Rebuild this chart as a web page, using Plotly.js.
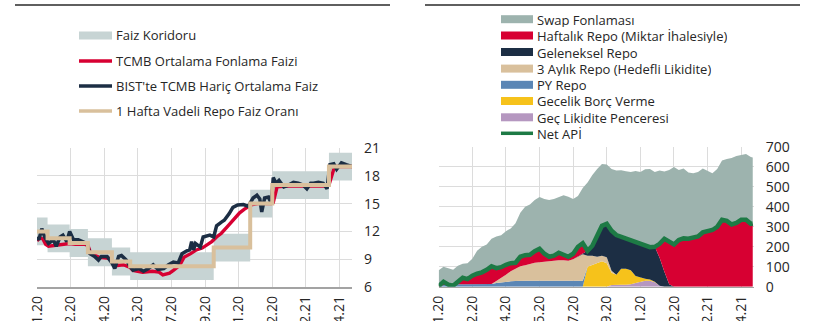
<!DOCTYPE html>
<html>
<head>
<meta charset="utf-8">
<script src="https://cdn.plot.ly/plotly-3.0.1.min.js"></script>
<style>
html,body{margin:0;padding:0;background:#ffffff;}
#chart{width:825px;height:321px;}
</style>
</head>
<body>
<div id="chart"></div>
<script>
// ---------- shared x axis (business-day index) ----------
const tickDays = [0, 35, 70, 105, 140, 175, 210, 245, 280, 315];
const tickLabels = ["02.01.20", "20.02.20", "09.04.20", "28.05.20", "16.07.20", "03.09.20", "02.11.20", "21.12.20", "10.02.21", "01.04.21"];

// ---------- left panel: rates (%) ----------
const policyDays   = [0, 11, 34, 53, 78, 97, 184, 222, 245, 304, 328];
const corridorLow  = [10.5, 9.75, 9.25, 8.25, 7.25, 6.75, 8.75, 13.5, 15.5, 17.5, 17.5];
const corridorHigh = [13.5, 12.75, 12.25, 11.25, 10.25, 9.75, 11.75, 16.5, 18.5, 20.5, 20.5];
const repoRate     = [12, 11.25, 10.75, 9.75, 8.75, 8.25, 10.25, 15, 17, 19, 19];

const tcmbDays = [0, 3, 6, 9, 12, 20, 30, 34, 40, 50, 53, 56, 65, 75, 79, 82, 90, 97, 100, 110, 120, 127, 131, 138, 142, 147, 150, 153, 160, 166, 172, 177, 182, 187, 192, 198, 204, 211, 216, 220, 224, 230, 244, 246, 250, 260, 280, 302, 304, 306, 309, 312, 328];
const tcmbRate = [11.0, 11.3, 11.2, 10.6, 10.4, 10.5, 10.6, 10.7, 10.6, 10.6, 10.5, 9.6, 9.2, 9.1, 8.6, 8.3, 8.4, 8.1, 7.8, 7.6, 7.7, 7.6, 7.3, 7.5, 7.8, 8.2, 8.6, 9.2, 9.6, 10.0, 10.2, 10.5, 10.9, 11.4, 11.8, 12.5, 13.2, 14.0, 14.4, 14.7, 14.9, 15.0, 15.0, 15.1, 16.8, 16.9, 16.9, 16.9, 17.0, 17.7, 18.7, 19.0, 19.0];

const bistDays = [0, 2, 5, 8, 12, 17, 20, 24, 27, 31, 34, 38, 43, 48, 52, 55, 60, 64, 67, 73, 78, 81, 85, 88, 93, 97, 100, 106, 111, 116, 121, 126, 132, 137, 142, 147, 151, 156, 159, 161, 163, 165, 170, 173, 180, 184, 187, 192, 195, 200, 204, 209, 215, 220, 225, 229, 232, 234, 237, 241, 244, 246, 249, 252, 257, 262, 267, 272, 277, 281, 285, 288, 293, 298, 302, 305, 309, 312, 317, 322, 328];
const bistRate = [11.4, 11.1, 12.3, 11.4, 10.7, 11.1, 10.4, 11.4, 11.6, 10.9, 12.0, 11.1, 11.1, 10.9, 10.7, 9.6, 9.3, 8.9, 9.3, 9.3, 8.6, 8.0, 9.3, 9.4, 8.9, 8.2, 7.8, 8.0, 7.7, 8.0, 8.4, 7.9, 8.0, 8.4, 8.7, 8.6, 9.6, 9.9, 10.0, 10.9, 10.0, 10.7, 10.3, 11.4, 11.6, 11.4, 12.6, 13.0, 13.2, 13.9, 14.6, 14.85, 14.9, 14.7, 15.6, 15.9, 15.5, 14.1, 15.6, 15.7, 15.0, 17.8, 17.2, 17.5, 16.8, 17.0, 17.3, 17.2, 17.0, 16.6, 17.2, 17.2, 17.3, 17.2, 16.6, 19.2, 19.3, 18.7, 19.4, 19.2, 19.0];

// ---------- right panel: funding (billion TL) ----------
const fundDays = [0,5,10,15,20,25,30,35,40,45,50,55,60,65,70,75,80,85,90,95,100,105,110,115,120,125,130,135,140,145,150,155,160,165,170,175,180,185,190,195,200,205,210,215,220,225,230,235,240,245,250,255,260,265,270,275,280,285,290,295,300,305,310,315,320,325,327];
const gecLikidite = [0,0,0,0,0,0,0,0,0,0,0,0,0,0,0,0,0,0,0,0,0,0,0,0,0,0,0,0,0,0,0,0,0,0,0,0,8,10,10,10,12,18,25,30,30,22,5,0,0,0,0,0,0,0,0,0,0,0,0,0,0,0,0,0,0,0,0];
const gecelikBorc = [0,0,0,0,0,0,0,0,0,0,0,0,0,0,0,0,0,0,0,0,0,0,0,0,0,0,0,0,0,0,0,100,110,118,128,118,62,50,80,80,70,35,20,10,6,3,0,0,0,0,0,0,0,0,0,0,0,0,0,0,0,0,0,0,0,0,0];
const pyRepo = [0,8,10,12,12,12,12,12,12,12,12,14,18,22,25,27,28,30,30,30,30,30,30,30,30,30,30,30,30,30,30,0,0,0,0,0,0,0,0,0,0,0,0,0,0,0,0,0,0,0,0,0,0,0,0,0,0,0,0,0,0,0,0,0,0,0,0];
const ucAylikRepo = [0,0,0,0,0,0,0,0,0,0,0,0,10,20,35,50,62,72,78,85,90,92,95,98,100,103,102,100,108,122,133,55,45,32,27,30,10,0,0,0,0,0,0,0,0,0,0,0,0,0,0,0,0,0,0,0,0,0,0,0,0,0,0,0,0,0,0];
const gelenekselRepo = [0,0,0,0,0,0,0,0,0,0,0,0,0,0,0,0,0,0,0,0,0,0,0,0,0,0,0,0,0,0,0,25,50,100,150,167,200,199,160,152,153,173,167,165,162,175,140,75,12,0,0,0,0,0,0,0,0,0,0,0,0,0,0,0,0,0,0];
const haftalikRepo = [3,17,0,0,13,33,26,43,53,60,73,88,65,56,50,41,30,48,50,45,58,68,40,22,26,37,28,20,27,48,55,0,0,0,0,0,0,0,0,0,0,0,0,0,0,0,70,165,213,212,234,242,240,245,252,272,278,284,300,335,330,312,320,335,335,315,317];
const swapFonlama = [80,75,82,73,80,70,80,85,115,128,127,138,159,160,168,174,198,220,242,252,257,260,275,284,284,281,298,301,275,255,277,342,355,340,310,297,310,323,333,336,340,354,363,383,392,375,367,337,360,388,351,350,332,323,323,320,300,284,290,297,310,333,335,325,330,335,331];
const netApi = [3,25,10,5,25,45,38,55,65,72,85,102,93,98,110,118,120,150,158,160,178,190,165,150,156,170,160,150,165,200,218,180,205,250,305,315,280,259,250,242,235,226,212,205,198,200,215,240,225,212,234,242,240,245,252,272,278,284,300,335,330,312,320,335,335,315,317];

// ---------- colours ----------
const C = {
  corridor: "#c7d4d4",
  red: "#d70032",
  navy: "#1c2e44",
  tan: "#d9c09c",
  swap: "#9db3ae",
  blue: "#5b86b5",
  yellow: "#f6c21b",
  lilac: "#b597c0",
  green: "#1d7a45",
  grid: "#dcdcdc",
  text: "#262626"
};
const FONT = "Open Sans, Noto Sans, sans-serif";
const W = 825, H = 321;
const fx = p => p / W;          // pixel -> paper x
const fy = p => 1 - p / H;      // pixel -> paper y

const traces = [];
// Left panel
traces.push({x: policyDays, y: corridorLow, xaxis: "x", yaxis: "y", mode: "lines",
  line: {shape: "hv", width: 0, color: C.corridor}, hoverinfo: "skip"});
traces.push({x: policyDays, y: corridorHigh, xaxis: "x", yaxis: "y", mode: "lines", name: "Faiz Koridoru",
  fill: "tonexty", fillcolor: C.corridor, line: {shape: "hv", width: 0, color: C.corridor}});
traces.push({x: tcmbDays, y: tcmbRate, xaxis: "x", yaxis: "y", mode: "lines", name: "TCMB Ortalama Fonlama Faizi",
  line: {color: C.red, width: 3.4}});
traces.push({x: bistDays, y: bistRate, xaxis: "x", yaxis: "y", mode: "lines", name: "BIST'te TCMB Hariç Ortalama Faiz",
  line: {color: C.navy, width: 3.5}});
traces.push({x: policyDays, y: repoRate, xaxis: "x", yaxis: "y", mode: "lines", name: "1 Hafta Vadeli Repo Faiz Oranı",
  line: {color: C.tan, width: 4, shape: "hv"}});

// Right panel (stack: bottom -> top)
const stack = [
  ["Geç Likidite Penceresi", gecLikidite, C.lilac],
  ["Gecelik Borç Verme", gecelikBorc, C.yellow],
  ["PY Repo", pyRepo, C.blue],
  ["3 Aylık Repo (Hedefli Likidite)", ucAylikRepo, C.tan],
  ["Geleneksel Repo", gelenekselRepo, C.navy],
  ["Haftalık Repo (Miktar İhalesiyle)", haftalikRepo, C.red],
  ["Swap Fonlaması", swapFonlama, C.swap]
];
stack.forEach(([name, vals, col]) => {
  traces.push({x: fundDays, y: vals, xaxis: "x2", yaxis: "y2", name: name, mode: "lines",
    stackgroup: "fund", fillcolor: col, line: {width: 0, color: col}});
});
traces.push({x: fundDays, y: netApi, xaxis: "x2", yaxis: "y2", name: "Net APİ", mode: "lines",
  line: {color: C.green, width: 4.5}});

// ---------- manual legends ----------
const shapes = [];
const annotations = [];
// header rules
shapes.push({type: "line", xref: "paper", yref: "paper", x0: fx(15), x1: fx(390), y0: fy(5), y1: fy(5), line: {color: "#5f5f5f", width: 2}});
shapes.push({type: "line", xref: "paper", yref: "paper", x0: fx(425), x1: fx(800), y0: fy(5), y1: fy(5), line: {color: "#5f5f5f", width: 2}});

function legendItem(kind, color, x0, x1, yc, label, boxH, textH) {
  if (kind === "box") {
    shapes.push({type: "rect", xref: "paper", yref: "paper", x0: fx(x0), x1: fx(x1), y0: fy(yc + boxH / 2), y1: fy(yc - boxH / 2),
      fillcolor: color, line: {width: 0}});
  } else {
    shapes.push({type: "line", xref: "paper", yref: "paper", x0: fx(x0), x1: fx(x1), y0: fy(yc), y1: fy(yc),
      line: {color: color, width: 3.5}});
  }
  const ann = {xref: "paper", yref: "paper", x: fx(x1 + 3), y: fy(yc), xanchor: "left", yanchor: "middle",
    showarrow: false, text: label, font: {family: FONT, size: 13, color: C.text}, borderpad: 0};
  if (textH) { ann.height = textH; ann.valign = "middle"; }
  annotations.push(ann);
}
// left legend
legendItem("box", C.corridor, 79, 112, 35.5, "Faiz Koridoru", 8);
legendItem("line", C.red, 79, 112, 61, "TCMB Ortalama Fonlama Faizi");
legendItem("line", C.navy, 79, 112, 86, "BIST'te TCMB Hariç Ortalama Faiz");
legendItem("line", C.tan, 79, 112, 111, "1 Hafta Vadeli Repo Faiz Oranı");
// right legend
const rItems = [
  ["box", C.swap, "Swap Fonlaması", 19.2],
  ["box", C.red, "Haftalık Repo (Miktar İhalesiyle)", 35.5],
  ["box", C.navy, "Geleneksel Repo", 52.0],
  ["box", C.tan, "3 Aylık Repo (Hedefli Likidite)", 68.6],
  ["box", C.blue, "PY Repo", 84.8],
  ["box", C.yellow, "Gecelik Borç Verme", 101.0],
  ["box", C.lilac, "Geç Likidite Penceresi", 117.3],
  ["line", C.green, "Net APİ", 133.3]
];
rItems.forEach(([k, c, t, y]) => legendItem(k, c, 501, 533, y, t, 8, 15));

// ---------- axes ----------
const xCommon = {
  range: [0, 328], tickmode: "array", tickvals: tickDays, ticktext: tickLabels, tickangle: -90,
  showgrid: true, gridcolor: C.grid, gridwidth: 1, zeroline: false,
  showline: true, linecolor: "#a3a3a3", linewidth: 1.5, ticks: "",
  ticklabelstandoff: 2,
  tickfont: {family: FONT, size: 14, color: C.text}, fixedrange: true
};
const yCommon = {
  side: "right", showgrid: true, gridcolor: C.grid, gridwidth: 1, zeroline: false, ticks: "",
  showline: false, ticklabelstandoff: 11,
  tickfont: {family: FONT, size: 14, color: C.text}, fixedrange: true
};

const layout = {
  width: W, height: H,
  margin: {l: 0, r: 0, t: 0, b: 0, pad: 0},
  paper_bgcolor: "#ffffff", plot_bgcolor: "#ffffff",
  showlegend: false,
  font: {family: FONT, color: C.text},
  xaxis: Object.assign({}, xCommon, {domain: [fx(37), fx(352)], anchor: "y"}),
  yaxis: Object.assign({}, yCommon, {domain: [fy(287), fy(148)], range: [6, 21], tick0: 6, dtick: 3, anchor: "x"}),
  xaxis2: Object.assign({}, xCommon, {domain: [fx(438.7), fx(753.7)], anchor: "y2"}),
  yaxis2: Object.assign({}, yCommon, {domain: [fy(286.7), fy(147)], range: [0, 700], tick0: 0, dtick: 100, anchor: "x2"}),
  shapes: shapes,
  annotations: annotations
};

Plotly.newPlot("chart", traces, layout, {staticPlot: true, displayModeBar: false});
</script>
</body>
</html>
